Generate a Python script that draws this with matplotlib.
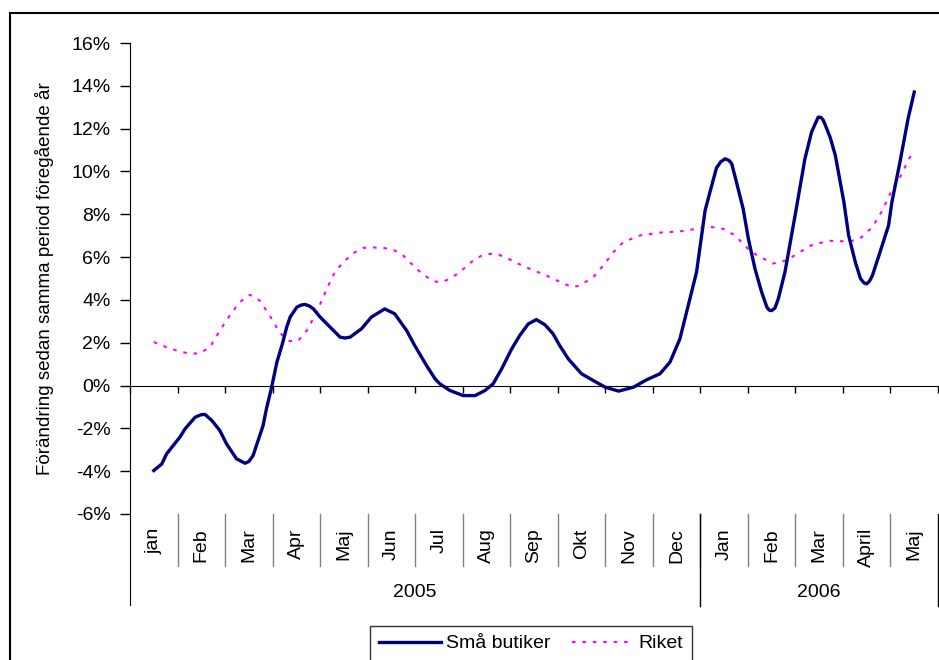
import numpy as np
import matplotlib.pyplot as plt
from matplotlib.ticker import PercentFormatter
from matplotlib.patches import Rectangle
import matplotlib.transforms as mtransforms

plt.rcParams['font.family'] = ['Liberation Sans', 'DejaVu Sans']
plt.rcParams['axes.unicode_minus'] = False

months = ['jan', 'Feb', 'Mar', 'Apr', 'Maj', 'Jun', 'Jul', 'Aug', 'Sep', 'Okt', 'Nov', 'Dec',
          'Jan', 'Feb', 'Mar', 'April', 'Maj']
years = ['2005', '2006']
months_per_year = [12, 5]

# time in months from jan 2005 (0 = jan, 16 = maj 2006), values in percent
t_sma = [0.00, 0.17, 0.27, 0.55, 0.66, 0.87, 1.00, 1.08, 1.22, 1.39, 1.53, 1.74, 1.92, 2.00,
         2.09, 2.30, 2.37, 2.48, 2.59, 2.70, 2.80, 2.87, 3.01, 3.10, 3.18, 3.27, 3.36, 3.50,
         3.71, 3.92, 4.02, 4.13, 4.37, 4.58, 4.86, 5.07, 5.32, 5.49, 5.74, 5.92, 6.02, 6.23,
         6.51, 6.76, 6.97, 7.14, 7.32, 7.53, 7.70, 7.88, 8.05, 8.23, 8.40, 8.54, 8.72, 9.00,
         9.25, 9.50, 9.78, 10.09, 10.37, 10.65, 10.86, 11.07, 11.21, 11.28, 11.42, 11.60,
         11.74, 11.84, 11.93, 12.02, 12.10, 12.16, 12.26, 12.40, 12.51, 12.65, 12.79, 12.90,
         12.95, 13.00, 13.07, 13.14, 13.28, 13.38, 13.53, 13.70, 13.84, 13.98, 14.04, 14.09,
         14.23, 14.34, 14.52, 14.62, 14.76, 14.87, 14.94, 15.00, 15.06, 15.12, 15.28, 15.46,
         15.53, 15.70, 15.87, 16.00]
sma_butiker = [-3.97, -3.66, -3.19, -2.41, -2.02, -1.48, -1.36, -1.35, -1.63, -2.10, -2.72,
               -3.42, -3.63, -3.55, -3.27, -1.87, -1.09, -0.08, 1.09, 1.90, 2.75, 3.20, 3.66,
               3.76, 3.79, 3.72, 3.58, 3.20, 2.73, 2.26, 2.22, 2.26, 2.65, 3.20, 3.58, 3.35,
               2.57, 1.87, 0.93, 0.31, 0.08, -0.23, -0.47, -0.47, -0.23, 0.08, 0.78, 1.71,
               2.34, 2.88, 3.08, 2.84, 2.42, 1.87, 1.25, 0.55, 0.23, -0.08, -0.26, -0.08, 0.27,
               0.55, 1.09, 2.18, 3.43, 4.05, 5.30, 8.18, 9.35, 10.17, 10.45, 10.59, 10.52,
               10.36, 9.50, 8.26, 6.86, 5.45, 4.36, 3.66, 3.52, 3.50, 3.62, 4.05, 5.30, 6.54,
               8.41, 10.59, 11.84, 12.54, 12.52, 12.38, 11.60, 10.75, 8.57, 7.01, 5.77, 4.99,
               4.80, 4.75, 4.88, 5.14, 6.23, 7.48, 8.57, 10.44, 12.46, 13.71]

t_riket = [0.00, 0.27, 0.48, 0.76, 0.97, 1.18, 1.39, 1.60, 1.81, 2.02, 2.23, 2.44, 2.65, 2.86,
           3.04, 3.22, 3.43, 3.64, 3.81, 3.99, 4.20, 4.41, 4.62, 4.83, 5.04, 5.25, 5.53, 5.70,
           5.88, 6.06, 6.23, 6.44, 6.72, 6.93, 7.10, 7.25, 7.46, 7.67, 7.91, 8.23, 8.44, 8.68,
           8.82, 8.96, 9.25, 9.46, 9.67, 9.88, 10.23, 10.65, 11.07, 11.42, 11.69, 11.98, 12.23,
           12.40, 12.54, 12.72, 13.03, 13.31, 13.59, 13.87, 14.23, 14.65, 14.87, 15.12, 15.33,
           15.51, 15.72, 15.89, 16.00]
riket = [2.03, 1.79, 1.64, 1.48, 1.51, 1.79, 2.57, 3.27, 3.90, 4.24, 3.97, 3.27, 2.46, 2.08,
         2.10, 2.57, 3.43, 4.52, 5.30, 5.77, 6.19, 6.43, 6.45, 6.43, 6.34, 6.07, 5.45, 5.14,
         4.87, 4.83, 4.99, 5.30, 5.84, 6.11, 6.15, 6.12, 5.92, 5.69, 5.45, 5.17, 4.95, 4.71,
         4.60, 4.67, 5.07, 5.61, 6.23, 6.70, 7.01, 7.14, 7.20, 7.32, 7.42, 7.32, 7.01, 6.62,
         6.31, 6.05, 5.70, 5.84, 6.23, 6.59, 6.76, 6.73, 6.89, 7.40, 8.18, 9.04, 9.81, 10.59,
         10.98]

fig = plt.figure(figsize=(9.39, 6.6), dpi=100)
ax = fig.add_axes([130 / 939, 146 / 660, 808 / 939, 471 / 660])

line1, = ax.plot(t_sma, np.array(sma_butiker) / 100, color='#000080', lw=2.4,
                 solid_joinstyle='round', label='Små butiker', zorder=3)
line2, = ax.plot(t_riket, np.array(riket) / 100, color='#FF00FF', lw=1.5,
                 dashes=(1.7, 3.3), label='Riket', zorder=2)

ax.set_xlim(-0.5, len(months) - 0.5)
ax.set_ylim(-0.06, 0.16)
ax.set_yticks(np.arange(-0.06, 0.161, 0.02))
ax.yaxis.set_major_formatter(PercentFormatter(1.0, decimals=0))
ax.tick_params(axis='y', length=7, width=1, pad=7, labelsize=14)

# category axis sits on the zero line
for s in ['top', 'right']:
    ax.spines[s].set_visible(False)
ax.spines['bottom'].set_position(('data', 0))
ax.spines['left'].set_bounds(-0.1025, 0.16)
ax.set_xticks(np.arange(-0.5, len(months), 1))
ax.tick_params(axis='x', length=5, width=1, labelbottom=False)

trans = mtransforms.blended_transform_factory(ax.transData, ax.transAxes)
for i, m in enumerate(months):
    ax.text(i, -0.03, m, rotation=90, ha='center', va='top', fontsize=14,
            transform=trans)
for b in range(1, len(months)):
    ax.plot([b - 0.5, b - 0.5], [0, -0.11], color='#808080', lw=1,
            transform=trans, clip_on=False)

start = -0.5
for y, n in zip(years, months_per_year):
    end = start + n
    ax.plot([end, end], [0, -0.195], color='black', lw=1,
            transform=trans, clip_on=False)
    ax.text((start + end) / 2, -0.166, y, ha='center', va='center', fontsize=14,
            transform=trans)
    start = end

fig.text(45 / 939, 1 - 278.5 / 660, 'Förändring sedan samma period föregående år',
         rotation=90, ha='center', va='center', fontsize=13.5)

leg = fig.legend(handles=[line1, line2], loc='upper left',
                 bbox_to_anchor=(370 / 939, 1 - 626 / 660), ncol=2, fontsize=14,
                 frameon=True, fancybox=False, borderaxespad=0, borderpad=0.45,
                 handlelength=3.2, handletextpad=0.25, columnspacing=1.1)
leg.get_frame().set_edgecolor('black')
leg.get_frame().set_linewidth(1)

# chart border
fig.add_artist(Rectangle((10 / 939, -0.1), 1.2, 1.1 - 13 / 660, transform=fig.transFigure,
                         fill=False, edgecolor='black', lw=1.5))

fig.savefig('out.png', dpi=100)
